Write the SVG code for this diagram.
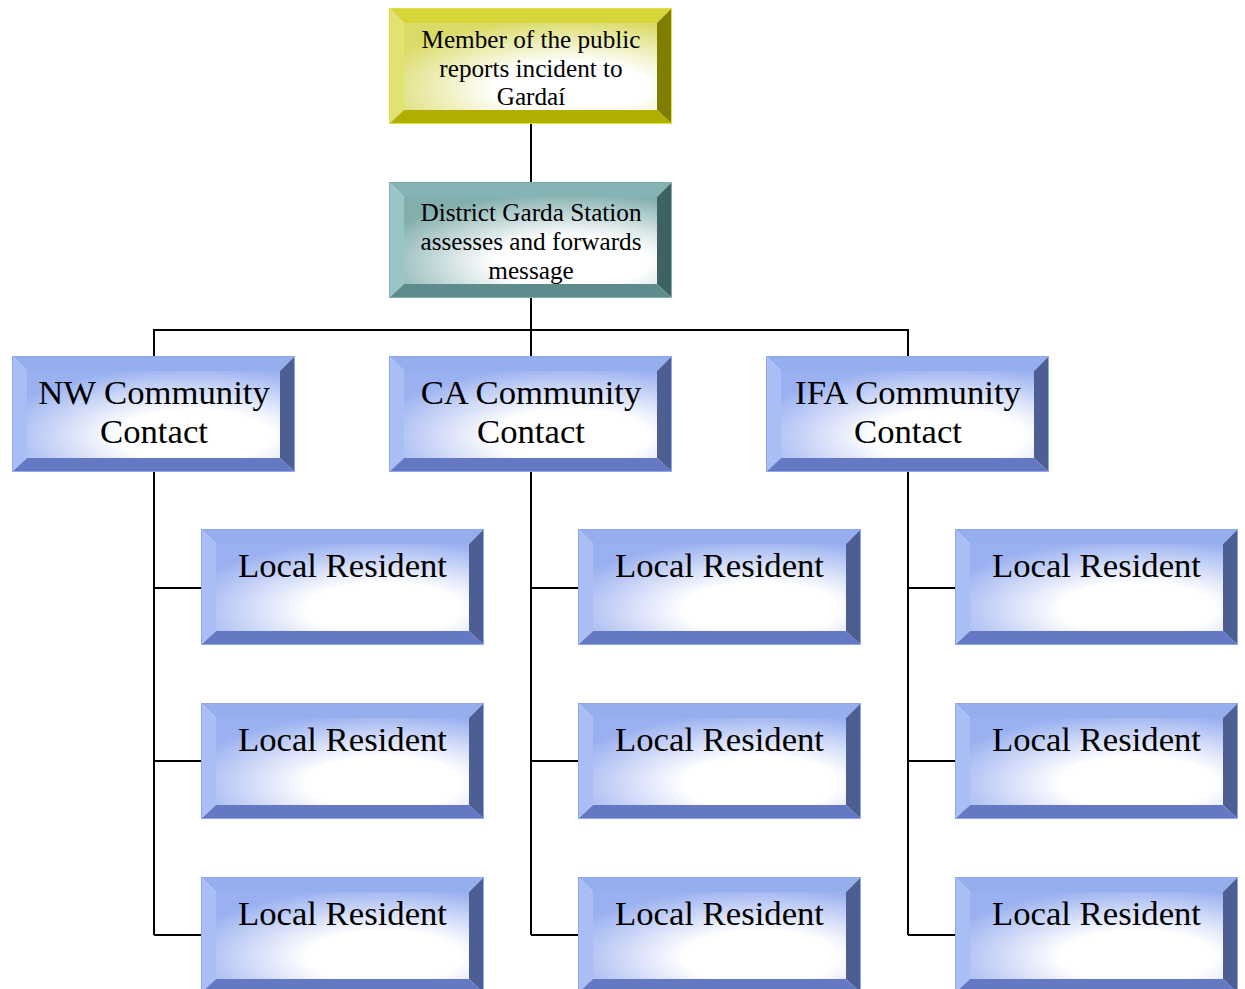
<svg xmlns="http://www.w3.org/2000/svg" xmlns:xlink="http://www.w3.org/1999/xlink" width="1245" height="989" viewBox="0 0 1245 989">
<style>
.t{font-family:"Liberation Serif","Times New Roman",serif;fill:#000;text-anchor:middle}
.s{font-size:25.2px}
.l{font-size:34.7px}
.c{stroke:#000;stroke-width:2;fill:none}
</style>
<defs>
<radialGradient id="gB" cx="0.66" cy="0.75" r="0.8">
<stop offset="0.38" stop-color="#ffffff"/><stop offset="1" stop-color="#9ab0f0"/></radialGradient>
<radialGradient id="gY" cx="0.66" cy="0.75" r="0.8">
<stop offset="0.38" stop-color="#ffffff"/><stop offset="1" stop-color="#dada66"/></radialGradient>
<radialGradient id="gT" cx="0.66" cy="0.75" r="0.8">
<stop offset="0.38" stop-color="#ffffff"/><stop offset="1" stop-color="#82aeae"/></radialGradient>
<g id="bB">
<polygon points="0,0 283,0 268,15 15,15" fill="#94aeee"/>
<polygon points="0,0 15,15 15,102 0,116" fill="#a9bef4"/>
<polygon points="283,0 283,116 268,102 268,15" fill="#4c5e92"/>
<polygon points="0,116 15,102 268,102 283,116" fill="#6478c4"/>
<rect x="15" y="15" width="253" height="87" fill="url(#gB)"/>
<rect x="0.5" y="0.5" width="282" height="115" fill="none" stroke="#8da8ee" stroke-width="1"/>
</g>
<g id="bY">
<polygon points="0,0 283,0 268,15 15,15" fill="#d6d63a"/>
<polygon points="0,0 15,15 15,102 0,116" fill="#e2e272"/>
<polygon points="283,0 283,116 268,102 268,15" fill="#7e7e00"/>
<polygon points="0,116 15,102 268,102 283,116" fill="#afaf00"/>
<rect x="15" y="15" width="253" height="87" fill="url(#gY)"/>
<rect x="0.5" y="0.5" width="282" height="115" fill="none" stroke="#e0e040" stroke-width="1"/>
</g>
<g id="bT">
<polygon points="0,0 283,0 268,15 15,15" fill="#84b4b4"/>
<polygon points="0,0 15,15 15,102 0,116" fill="#98c6c6"/>
<polygon points="283,0 283,116 268,102 268,15" fill="#3e6262"/>
<polygon points="0,116 15,102 268,102 283,116" fill="#5e8c8c"/>
<rect x="15" y="15" width="253" height="87" fill="url(#gT)"/>
<rect x="0.5" y="0.5" width="282" height="115" fill="none" stroke="#7eaeae" stroke-width="1"/>
</g>
</defs>
<rect width="1245" height="989" fill="#fff"/>
<g id="connectors">
<path class="c" d="M531,124V182M531,298V356M154,356V330H908V356"/>
<path class="c" d="M154,472V935M154,588H201M154,761H201M154,935H201"/>
<path class="c" d="M531,472V935M531,588H578M531,761H578M531,935H578"/>
<path class="c" d="M908,472V935M908,588H955M908,761H955M908,935H955"/>
</g>
<g id="n-public">
<use xlink:href="#bY" x="389" y="8"/>
<text class="t s" x="531" y="48">Member of the public</text>
<text class="t s" x="531" y="77">reports incident to</text>
<text class="t s" x="531" y="105">Gardaí</text>
</g>
<g id="n-garda">
<use xlink:href="#bT" x="389" y="182"/>
<text class="t s" x="531" y="221">District Garda Station</text>
<text class="t s" x="531" y="250">assesses and forwards</text>
<text class="t s" x="531" y="279">message</text>
</g>
<g id="n-nw">
<use xlink:href="#bB" x="12" y="356"/>
<text class="t l" x="154" y="404">NW Community</text>
<text class="t l" x="154" y="443">Contact</text>
</g>
<g id="n-ca">
<use xlink:href="#bB" x="389" y="356"/>
<text class="t l" x="531" y="404">CA Community</text>
<text class="t l" x="531" y="443">Contact</text>
</g>
<g id="n-ifa">
<use xlink:href="#bB" x="766" y="356"/>
<text class="t l" x="908" y="404">IFA Community</text>
<text class="t l" x="908" y="443">Contact</text>
</g>
<g id="n-nw-r1"><use xlink:href="#bB" x="201" y="529"/><text class="t l" x="342.5" y="577">Local Resident</text></g>
<g id="n-nw-r2"><use xlink:href="#bB" x="201" y="703"/><text class="t l" x="342.5" y="751">Local Resident</text></g>
<g id="n-nw-r3"><use xlink:href="#bB" x="201" y="877"/><text class="t l" x="342.5" y="925">Local Resident</text></g>
<g id="n-ca-r1"><use xlink:href="#bB" x="578" y="529"/><text class="t l" x="719.5" y="577">Local Resident</text></g>
<g id="n-ca-r2"><use xlink:href="#bB" x="578" y="703"/><text class="t l" x="719.5" y="751">Local Resident</text></g>
<g id="n-ca-r3"><use xlink:href="#bB" x="578" y="877"/><text class="t l" x="719.5" y="925">Local Resident</text></g>
<g id="n-ifa-r1"><use xlink:href="#bB" x="955" y="529"/><text class="t l" x="1096.5" y="577">Local Resident</text></g>
<g id="n-ifa-r2"><use xlink:href="#bB" x="955" y="703"/><text class="t l" x="1096.5" y="751">Local Resident</text></g>
<g id="n-ifa-r3"><use xlink:href="#bB" x="955" y="877"/><text class="t l" x="1096.5" y="925">Local Resident</text></g>
</svg>
